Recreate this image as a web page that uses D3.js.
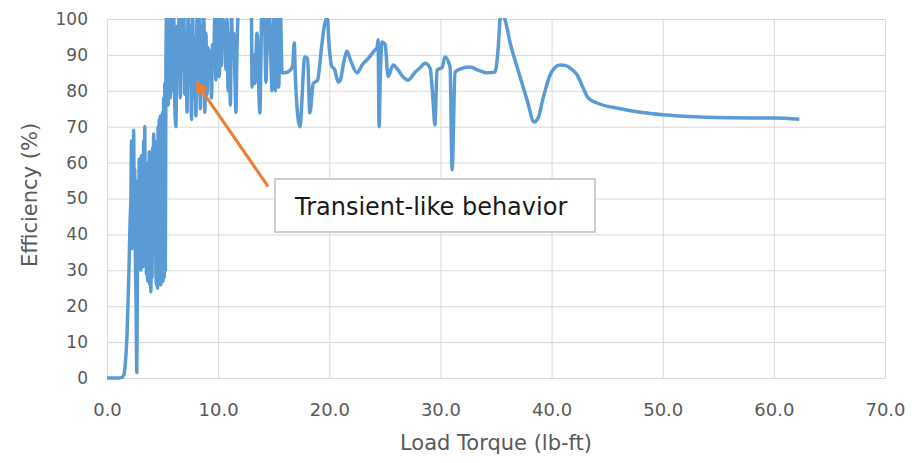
<!DOCTYPE html>
<html>
<head>
<meta charset="utf-8">
<script src="https://cdn.jsdelivr.net/npm/d3@7"></script>
<style>
  body { margin: 0; background: #fff; }
  text { font-family: "DejaVu Sans", sans-serif; }
</style>
</head>
<body>
<div id="chart"></div>
<script>
// Data
var torque = [
  0, 0.5, 1.0, 1.3, 1.5, 1.65, 1.8, 1.9, 2.0, 2.08, 2.15,
  2.2, 2.25, 2.3, 2.35, 2.4, 2.45, 2.5, 2.55, 2.62, 2.68, 2.74, 2.8, 2.85, 2.9, 2.95,
  3.0, 3.05, 3.1, 3.15, 3.2, 3.25, 3.3, 3.35, 3.4, 3.45, 3.5, 3.55, 3.6, 3.65, 3.7, 3.75,
  3.8, 3.85, 3.9, 3.95, 4.0, 4.05, 4.1, 4.15, 4.2, 4.25, 4.3, 4.35, 4.4, 4.45, 4.5, 4.55,
  4.6, 4.65, 4.7, 4.75, 4.8, 4.85, 4.9, 4.95, 5.0, 5.05, 5.1, 5.15, 5.2, 5.25, 5.3,
  5.35, 5.4, 5.45, 5.5, 5.55, 5.6, 5.65, 5.7, 5.75, 5.8, 5.85, 5.9, 5.95, 6.0, 6.1, 6.2,
  6.3, 6.4, 6.5, 6.6, 6.7, 6.8, 6.9, 7.0, 7.1, 7.2, 7.3, 7.4, 7.5, 7.6, 7.7, 7.8, 7.9,
  8.0, 8.1, 8.2, 8.3, 8.4, 8.5, 8.6, 8.7, 8.8, 8.9, 9.0, 9.1, 9.2, 9.3, 9.4, 9.5, 9.6,
  9.7, 9.8, 9.9, 10.0, 10.1, 10.2, 10.3, 10.4, 10.5, 10.6, 10.7, 10.8, 10.9, 11.0, 11.1,
  11.2, 11.3, 11.4, 11.5, 11.6, 11.7, 11.8, 12.0, 12.2,
  12.4, 12.7, 13.0, 13.05, 13.2, 13.3, 13.5, 13.75, 13.95, 14.15, 14.3, 14.5, 14.75,
  14.85, 15.0, 15.15, 15.3, 15.45, 15.6, 15.75, 16.0, 16.5, 16.7, 16.85, 16.95, 17.35,
  17.8, 18.05, 18.25, 18.55, 18.95, 19.3, 19.55, 19.8, 20.0, 20.2, 20.5, 20.8, 21.0,
  21.3, 21.6, 21.9, 22.5, 22.95, 23.5, 24.12, 24.3, 24.39, 24.48, 24.6, 24.75, 25.02,
  25.29, 25.74, 26.19, 26.6, 27.09, 27.72, 28.2, 28.62, 29.07, 29.34, 29.5, 29.7, 30.15,
  30.4, 30.87, 31.05, 31.32, 31.7, 32.67, 33.5, 34.2, 34.9, 35.2, 35.37, 35.6, 35.8,
  36.3, 36.9, 37.8, 38.43, 38.8, 39.24, 39.87, 40.3, 40.77, 41.3, 41.8, 42.3, 42.84,
  43.3, 44.1, 46.2, 48.0, 50.0, 53.4, 56.0, 60.0, 62.3
];
var efficiency = [
  0, 0, 0, 0.1, 0.8, 4, 12, 22, 33, 44, 50,
  66, 36, 63, 40, 69, 45, 58, 35, 20, 1.5, 30, 55, 33, 61, 38,
  57, 30, 62, 35, 52, 31, 66, 40, 70, 34, 60, 29, 48, 27, 55, 30,
  63, 26, 58, 24, 45, 28, 64, 35, 68, 40, 66, 50, 30, 26, 60, 25,
  70, 26, 72, 27, 73, 26, 72, 28, 74, 27, 78, 28, 82, 30, 85,
  101, 80, 104, 76, 102, 82, 105, 78, 100, 88, 104, 80, 92, 102, 76, 70,
  98, 84, 104, 78, 100, 86, 106, 79, 96, 74, 103, 82, 98, 72, 104, 78, 95,
  73, 100, 84, 104, 75, 98, 82, 105, 74, 96, 79, 92, 86, 91, 78, 93, 88,
  101, 83, 105, 90, 84, 101, 87, 104, 92, 99, 86, 100, 80, 96, 76,
  102, 90, 96, 85, 74, 92, 101, 105, 101,
  104, 106, 100, 81, 90, 82, 96, 73.8, 104, 102, 82.4, 104, 88,
  80, 105, 80, 104, 81, 102, 85, 85, 85.8, 87, 93.3, 83.5, 70,
  89.4, 89, 73.8, 82, 83, 92, 98, 100.5, 92, 87, 85.8, 82.4, 83,
  88, 91, 88.6, 85, 87.2, 89, 91.4, 92, 94.2, 70, 85, 93.6, 93,
  84, 87.2, 85.8, 84, 83, 85.2, 86.5, 87.7, 86.3, 77, 70.5, 85.8, 86.5,
  89.4, 86.6, 58, 85.2, 86, 86.6, 85.6, 85, 85.2, 92, 100, 101.5, 100,
  93, 86.6, 77.4, 71.3, 72.5, 78, 84.4, 86.5, 87.2, 87, 86, 84.4, 80.8,
  78, 76.6, 75, 74, 73.3, 72.7, 72.5, 72.4, 72.1
];
var xTicks = [0, 10, 20, 30, 40, 50, 60, 70];
var yTicks = [0, 10, 20, 30, 40, 50, 60, 70, 80, 90, 100];
var xTitle = "Load Torque (lb-ft)";
var yTitle = "Efficiency (%)";
var noteText = "Transient-like behavior";
var arrowTip = [8.0, 82.5];
var arrowTail = [14.5, 53.3];

var chart_width = 912;
var chart_height = 463;
var plot_left = 107, plot_right = 885, plot_top = 19, plot_bottom = 378;

var svg = d3.select("#chart")
  .append("svg")
  .attr("width", chart_width)
  .attr("height", chart_height);

var x_scale = d3.scaleLinear().domain([0, 70]).range([plot_left, plot_right]);
var y_scale = d3.scaleLinear().domain([0, 100]).range([plot_bottom, plot_top]);

// Gridlines
svg.append("g")
  .attr("transform", "translate(0," + plot_bottom + ")")
  .call(d3.axisBottom(x_scale).tickValues(xTicks).tickSize(-(plot_bottom - plot_top)).tickFormat(""))
  .call(function(g){ g.select(".domain").remove(); })
  .selectAll("line").attr("stroke", "#d9d9d9").attr("stroke-width", 1);

svg.append("g")
  .attr("transform", "translate(" + plot_left + ",0)")
  .call(d3.axisLeft(y_scale).tickValues(yTicks).tickSize(-(plot_right - plot_left)).tickFormat(""))
  .call(function(g){ g.select(".domain").remove(); })
  .selectAll("line").attr("stroke", "#d9d9d9").attr("stroke-width", 1);

// Tick labels
var xa = svg.append("g")
  .attr("transform", "translate(0," + plot_bottom + ")")
  .call(d3.axisBottom(x_scale).tickValues(xTicks).tickSize(0).tickPadding(25).tickFormat(d3.format(".1f")));
xa.select(".domain").remove();
xa.selectAll("text").attr("font-size", 18).attr("fill", "#595959").style("font-family", "DejaVu Sans");

var ya = svg.append("g")
  .attr("transform", "translate(" + plot_left + ",0)")
  .call(d3.axisLeft(y_scale).tickValues(yTicks).tickSize(0).tickPadding(19));
ya.select(".domain").remove();
ya.selectAll("text").attr("font-size", 17).attr("fill", "#595959").style("font-family", "DejaVu Sans");

// Axis titles
svg.append("text")
  .attr("x", (plot_left + plot_right) / 2)
  .attr("y", 450)
  .attr("text-anchor", "middle")
  .attr("font-size", 21)
  .attr("fill", "#595959")
  .text(xTitle);

svg.append("text")
  .attr("transform", "translate(37," + 195 + ") rotate(-90)")
  .attr("text-anchor", "middle")
  .attr("font-size", 21)
  .attr("fill", "#595959")
  .text(yTitle);

// Line
svg.append("clipPath").attr("id", "plot")
  .append("rect")
  .attr("x", plot_left).attr("y", plot_top - 1)
  .attr("width", plot_right - plot_left).attr("height", plot_bottom - plot_top + 4);

var pts = torque.map(function(d, i){ return [d, efficiency[i]]; });
var line = d3.line()
  .x(function(d){ return x_scale(d[0]); })
  .y(function(d){ return y_scale(d[1]); })
  .curve(d3.curveMonotoneX);

svg.append("path")
  .datum(pts)
  .attr("clip-path", "url(#plot)")
  .attr("fill", "none")
  .attr("stroke", "#5b9bd5")
  .attr("stroke-width", 3.5)
  .attr("stroke-linejoin", "round")
  .attr("d", line);

// Annotation arrow
svg.append("defs").append("marker")
  .attr("id", "head")
  .attr("viewBox", "0 0 10 10")
  .attr("refX", 9).attr("refY", 5)
  .attr("markerWidth", 5).attr("markerHeight", 4.5)
  .attr("orient", "auto")
  .append("path")
  .attr("d", "M0,0 L10,5 L0,10 Z")
  .attr("fill", "#ed7d31");

svg.append("line")
  .attr("x1", x_scale(arrowTail[0])).attr("y1", y_scale(arrowTail[1]))
  .attr("x2", x_scale(arrowTip[0])).attr("y2", y_scale(arrowTip[1]))
  .attr("stroke", "#ed7d31")
  .attr("stroke-width", 3)
  .attr("marker-end", "url(#head)");

// Annotation box
svg.append("rect")
  .attr("x", 275).attr("y", 179)
  .attr("width", 320).attr("height", 53)
  .attr("fill", "#fff")
  .attr("stroke", "#bfbfbf")
  .attr("stroke-width", 1.5);

svg.append("text")
  .attr("x", 295).attr("y", 215)
  .attr("font-size", 24)
  .attr("fill", "#1a1a1a")
  .text(noteText);
</script>
</body>
</html>
